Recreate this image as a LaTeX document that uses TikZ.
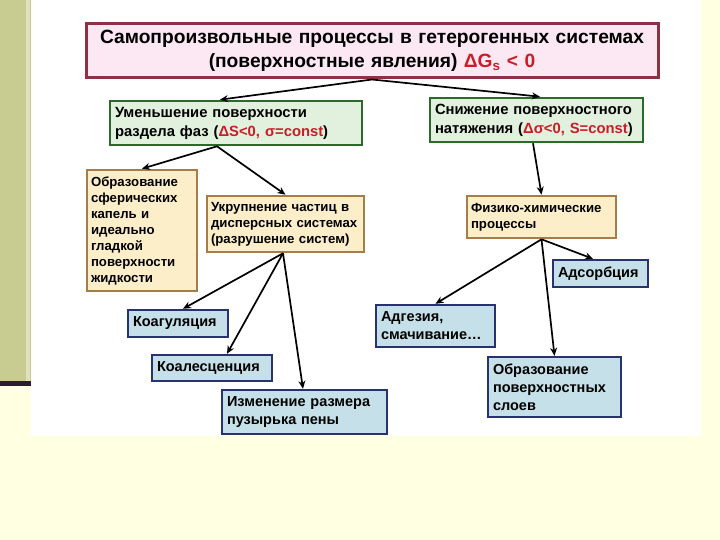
\documentclass[tikz,border=0pt]{standalone}
\usepackage{fontspec}
\setmainfont{Liberation Sans}
\usepackage{xcolor}
\usetikzlibrary{arrows.meta}
\definecolor{cream}{HTML}{FFFFE2}
\definecolor{olivebar}{HTML}{C9CC91}
\definecolor{plumline}{HTML}{2E1838}
\definecolor{ttlfill}{HTML}{FCE8F3}
\definecolor{ttlline}{HTML}{8C3246}
\definecolor{grnfill}{HTML}{E2F1DE}
\definecolor{grnline}{HTML}{2A6A2A}
\definecolor{tanfill}{HTML}{FCEEC8}
\definecolor{tanline}{HTML}{A57D4B}
\definecolor{blufill}{HTML}{C5E0E8}
\definecolor{bluline}{HTML}{28326E}
\definecolor{fred}{HTML}{C81E28}

\begin{document}
\begin{tikzpicture}[x=1pt,y=-1pt,
  inner xsep=5pt, inner ysep=1pt,
  ttl/.style={draw=ttlline,line width=3pt,fill=ttlfill,align=center,font=\fontsize{19.2}{24}\selectfont\bfseries},
  grn/.style={draw=grnline,line width=2.6pt,fill=grnfill,align=left,font=\fontsize{14.8}{19}\selectfont\bfseries},
  tan/.style={draw=tanline,line width=2.6pt,fill=tanfill,align=left,inner xsep=4pt,font=\fontsize{13.2}{16}\selectfont\bfseries},
  blu/.style={draw=bluline,line width=2.4pt,fill=blufill,align=left,font=\fontsize{14.5}{18}\selectfont\bfseries},
  a/.style={-{Stealth[length=8pt,width=7pt]},line width=1.7pt}]
\useasboundingbox (0,0) rectangle (720,540);
% slide background
\fill[cream] (0,0) rectangle (720,540);
\fill[olivebar] (0,0) rectangle (31,383);
\fill[olivebar!60] (26,0) rectangle (30,383);
\fill[plumline] (0,381) rectangle (31,386);
\fill[white] (31,0) rectangle (701,436);
% boxes
\node[ttl,text width=562pt,minimum height=54pt] (top) at (372,51)
  {Самопроизвольные процессы в гетерогенных системах\\(поверхностные явления) \textcolor{fred}{ΔG\textsubscript{s} < 0}};
\node[grn,text width=242pt,minimum height=44pt] (g1) at (236,123)
  {Уменьшение поверхности\\раздела фаз (\textcolor{fred}{ΔS<0, σ=const})};
\node[grn,text width=203pt,minimum height=44pt] (g2) at (536.5,120)
  {Снижение поверхностного\\натяжения (\textcolor{fred}{Δσ<0, S=const})};
\node[tan,text width=102pt,minimum height=121pt] (t1) at (142,230.5)
  {Образование\\сферических\\капель и\\идеально\\гладкой\\поверхности\\жидкости};
\node[tan,text width=149pt,minimum height=56pt] (t2) at (285.5,224)
  {Укрупнение частиц в\\дисперсных системах\\(разрушение систем)};
\node[tan,text width=141pt,minimum height=42pt] (t3) at (541.5,217)
  {Физико-химические\\процессы};
\node[blu,text width=85pt,minimum height=27pt] (ads) at (600.5,273.5) {Адсорбция};
\node[blu,text width=90pt,minimum height=27pt] (koag) at (178,323.5) {Коагуляция};
\node[blu,text width=110pt,minimum height=26pt] (koal) at (212,368) {Коалесценция};
\node[blu,text width=155pt,minimum height=44pt] (pena) at (304.5,412)
  {Изменение размера\\пузырька пены};
\node[blu,text width=109pt,minimum height=42pt] (adg) at (435.5,326)
  {Адгезия,\\смачивание…};
\node[blu,text width=123pt,minimum height=60pt] (sloi) at (554.5,387)
  {Образование\\поверхностных\\слоев};
% arrows
\draw[a](top.south)--([xshift=-16pt]g1.north);\draw[a](top.south)--([xshift=3.5pt]g2.north);
\draw[a]([xshift=-19pt]g1.south)--(t1.north);\draw[a]([xshift=-19pt]g1.south)--(t2.north);
\draw[a]([xshift=-3.5pt]g2.south)--(t3.north);
\draw[a]([xshift=-2.5pt]t2.south)--([xshift=5pt]koag.north);\draw[a]([xshift=-2.5pt]t2.south)--([xshift=15pt]koal.north);
\draw[a]([xshift=-2.5pt]t2.south)--([xshift=-1.5pt]pena.north);
\draw[a](t3.south)--([xshift=-7.5pt]ads.north);\draw[a](t3.south)--(adg.north);\draw[a](t3.south)--(sloi.north);
\end{tikzpicture}
\end{document}
